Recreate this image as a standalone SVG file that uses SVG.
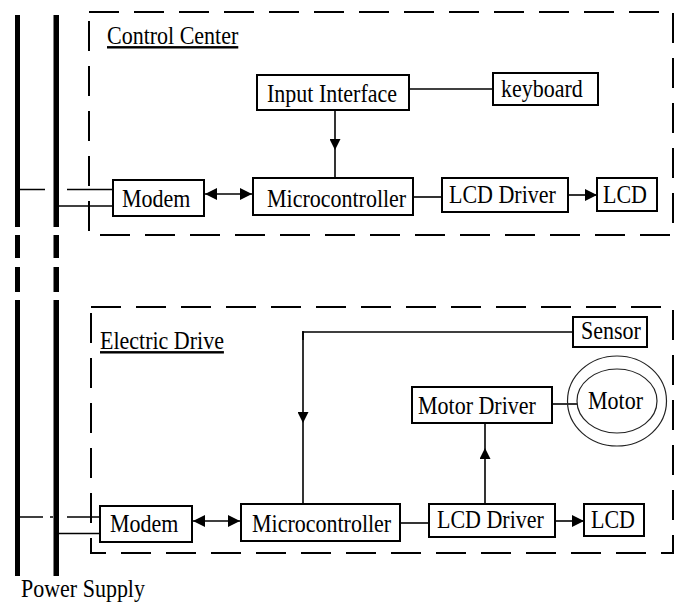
<svg xmlns="http://www.w3.org/2000/svg" width="681" height="603" viewBox="0 0 681 603" font-family="'Liberation Serif', 'DejaVu Serif', serif">
<style>
text{font-family:'Liberation Serif','Times New Roman','DejaVu Serif',serif;font-size:22px;fill:#000}
.box{fill:#fff;stroke:#000;stroke-width:2}
.grp{fill:none;stroke:#000;stroke-width:2;stroke-dasharray:30 15}
.bar{fill:#000}
.ln{fill:none;stroke:#000;stroke-width:1.6}
.ul{text-decoration:underline}
.motor{fill:none;stroke:#222;stroke-width:1.2}
</style>
<defs>
<marker id="ah" viewBox="0 0 10 10" refX="10" refY="5" markerWidth="14" markerHeight="12" markerUnits="userSpaceOnUse" orient="auto"><path d="M0,0 L10,5 L0,10 Z" fill="#000"/></marker>
<marker id="as" viewBox="0 0 10 10" refX="0" refY="5" markerWidth="14" markerHeight="12" markerUnits="userSpaceOnUse" orient="auto"><path d="M10,0 L0,5 L10,10 Z" fill="#000"/></marker>
<marker id="am" viewBox="0 0 10 10" refX="10" refY="5" markerWidth="13" markerHeight="11" markerUnits="userSpaceOnUse" orient="auto"><path d="M0,0 L10,5 L0,10 Z" fill="#000"/></marker>
</defs>

<g id="power-supply">
<rect class="bar" x="15" y="15" width="5" height="212"/>
<rect class="bar" x="15" y="235" width="5" height="23"/>
<rect class="bar" x="15" y="267" width="5" height="25"/>
<rect class="bar" x="15" y="300" width="5" height="276"/>
<rect class="bar" x="53.5" y="15" width="5.5" height="212"/>
<rect class="bar" x="53.5" y="235" width="5.5" height="23"/>
<rect class="bar" x="53.5" y="267" width="5.5" height="25"/>
<rect class="bar" x="53.5" y="300" width="5.5" height="276"/>
<text transform="translate(21,597) scale(1,1.1)">Power Supply</text>
</g>

<g id="control-center">
<rect class="grp" x="89" y="12" width="584" height="223"/>
<text class="ul" transform="translate(107,44) scale(1,1.1)">Control Center</text>
</g>

<g id="electric-drive">
<rect class="grp" x="91" y="307" width="582" height="246"/>
<text class="ul" transform="translate(100,349) scale(1,1.1)">Electric Drive</text>
</g>

<g id="connectors">
<path class="ln" d="M20,189.5 H45 M67,189.5 H113"/>
<path class="ln" d="M59,206 H113"/>
<path class="ln" d="M409,89 H493"/>
<path class="ln" d="M335,110 V150 V178" marker-mid="url(#am)"/>
<path class="ln" d="M205,194 H252" marker-start="url(#as)" marker-end="url(#ah)"/>
<path class="ln" d="M413,197 H442"/>
<path class="ln" d="M568,195 H597" marker-end="url(#ah)"/>
<path class="ln" d="M20,517 H43 M50,517 H53 M67,517 H100"/>
<path class="ln" d="M59,533.5 H100"/>
<path class="ln" d="M573,332 H303 V340"/>
<path class="ln" d="M303,331 V423 V504" marker-mid="url(#am)"/>
<path class="ln" d="M193,521 H240" marker-start="url(#as)" marker-end="url(#ah)"/>
<path class="ln" d="M400,523 H429"/>
<path class="ln" d="M555,521 H584" marker-end="url(#ah)"/>
<path class="ln" d="M485,504 V448 V423" marker-mid="url(#am)"/>
<path class="ln" d="M552,404 H577"/>
</g>

<g id="cc-modem"><rect class="box" x="113" y="180" width="91" height="36"/><text transform="translate(122,207) scale(1,1.1)">Modem</text></g>
<g id="cc-microcontroller"><rect class="box" x="253" y="178" width="160" height="37"/><text transform="translate(267,207) scale(1,1.1)">Microcontroller</text></g>
<g id="cc-input-interface"><rect class="box" x="257" y="75" width="152" height="35"/><text transform="translate(267,102) scale(1,1.1)">Input Interface</text></g>
<g id="cc-keyboard"><rect class="box" x="493" y="73" width="105" height="32"/><text transform="translate(501,97) scale(1,1.1)">keyboard</text></g>
<g id="cc-lcd-driver"><rect class="box" x="442" y="178" width="126" height="34"/><text transform="translate(449,203) scale(1,1.1)">LCD Driver</text></g>
<g id="cc-lcd"><rect class="box" x="597" y="178" width="60" height="33"/><text transform="translate(603,203) scale(1,1.1)">LCD</text></g>

<g id="ed-sensor"><rect class="box" x="573" y="317" width="74" height="30"/><text transform="translate(581,339) scale(1,1.1)">Sensor</text></g>
<g id="ed-motor-driver"><rect class="box" x="412" y="387" width="140" height="36"/><text transform="translate(418,414) scale(1,1.1)">Motor Driver</text></g>
<g id="ed-motor"><ellipse class="motor" cx="617" cy="401" rx="49.5" ry="45"/><ellipse class="motor" cx="617" cy="401" rx="40" ry="32"/><text transform="translate(588,409) scale(1,1.1)">Motor</text></g>
<g id="ed-modem"><rect class="box" x="100" y="506" width="92" height="36"/><text transform="translate(110,532) scale(1,1.1)">Modem</text></g>
<g id="ed-microcontroller"><rect class="box" x="241" y="504" width="159" height="37"/><text transform="translate(252,532) scale(1,1.1)">Microcontroller</text></g>
<g id="ed-lcd-driver"><rect class="box" x="429" y="504" width="126" height="33"/><text transform="translate(437,528) scale(1,1.1)">LCD Driver</text></g>
<g id="ed-lcd"><rect class="box" x="584" y="504" width="60" height="32"/><text transform="translate(591,528) scale(1,1.1)">LCD</text></g>
</svg>
